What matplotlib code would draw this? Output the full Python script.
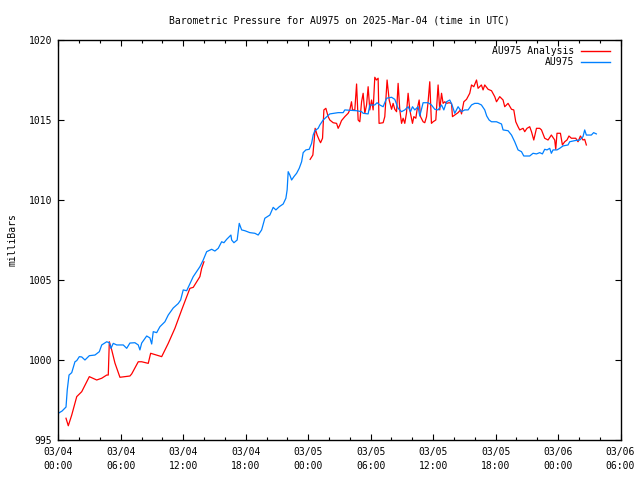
import numpy as np
import matplotlib
matplotlib.use("Agg")
import matplotlib.pyplot as plt

# hours since 2025-03-04 00:00 UTC, pressure in milliBars
au975_hours = [0.0, 0.36, 0.74, 0.86, 1.03, 1.29, 1.60, 1.77, 2.02, 2.25, 2.56, 2.98, 3.52, 3.94,
               4.17, 4.65, 4.90, 5.06, 5.28, 5.61, 6.24, 6.57, 6.88, 7.36, 7.68, 7.84, 8.01, 8.49,
               8.80, 8.97, 9.12, 9.45, 9.76, 10.24, 10.56, 11.04, 11.52, 11.75, 12.0, 12.33, 12.96,
               13.60, 13.92, 14.25, 14.73, 15.04, 15.36, 15.69, 15.91, 16.17, 16.58, 16.65, 16.87,
               17.18, 17.38, 17.61, 17.92, 18.40, 18.88, 19.20, 19.53, 19.84, 20.32, 20.64, 20.90,
               21.22, 21.60, 21.86, 21.98, 22.08, 22.24, 22.41, 22.63, 22.89, 23.14, 23.37, 23.52,
               23.78, 24.10, 24.33, 24.48, 24.64, 24.96, 25.12, 25.44, 26.08, 26.88, 27.36, 27.52,
               28.65, 29.13, 29.28, 29.76, 29.92, 30.40, 30.62, 30.88, 31.20, 31.53, 32.01, 32.32,
               32.64, 32.97, 33.28, 33.60, 33.83, 34.02, 34.24, 34.56, 34.72, 35.04, 35.52, 35.84,
               36.16, 36.48, 36.81, 37.03, 37.29, 37.60, 37.82, 38.08, 38.40, 38.73, 39.04, 39.36,
               39.69, 40.0, 40.32, 40.64, 40.96, 41.15, 41.38, 41.61, 42.09, 42.57, 42.72, 43.20,
               43.53, 43.84, 44.16, 44.49, 44.71, 45.28, 45.60, 45.93, 46.24, 46.50, 46.72, 46.94,
               47.20, 47.36, 47.52, 47.90, 48.16, 48.48, 48.96, 49.12, 49.60, 50.08, 50.40, 50.56,
               50.72, 51.20, 51.42, 51.68]
au975_mbar = [996.67, 996.81, 997.06, 998.13, 999.06, 999.21, 999.89, 999.96, 1000.21, 1000.19,
              1000.0, 1000.27, 1000.31, 1000.52, 1000.94, 1001.14, 1001.08, 1000.73, 1001.04,
              1000.94, 1000.94, 1000.73, 1001.06, 1001.08, 1000.94, 1000.63, 1001.06, 1001.5,
              1001.38, 1001.0, 1001.77, 1001.71, 1002.08, 1002.39, 1002.81, 1003.25, 1003.53,
              1003.75, 1004.38, 1004.33, 1005.21, 1005.83, 1006.25, 1006.77, 1006.92, 1006.81,
              1006.98, 1007.39, 1007.33, 1007.54, 1007.81, 1007.5, 1007.33, 1007.5, 1008.54,
              1008.13, 1008.08, 1007.96, 1007.92, 1007.81, 1008.13, 1008.86, 1009.06, 1009.54,
              1009.38, 1009.58, 1009.75, 1010.11, 1010.63, 1011.77, 1011.56, 1011.25, 1011.46,
              1011.67, 1011.98, 1012.39, 1012.96, 1013.13, 1013.17, 1013.54, 1014.06, 1014.33,
              1014.48, 1014.69, 1015.0, 1015.38, 1015.46, 1015.46, 1015.63, 1015.58, 1015.52,
              1015.42, 1015.38, 1015.94, 1015.94, 1016.08, 1015.94, 1015.83, 1016.36, 1016.42,
              1016.29, 1015.73, 1015.52, 1015.63, 1015.83, 1015.52, 1015.83, 1015.63, 1015.83,
              1015.25, 1016.08, 1016.08, 1015.94, 1015.67, 1015.63, 1015.94, 1015.63, 1016.14,
              1016.25, 1015.94, 1015.42, 1015.83, 1015.52, 1015.63, 1015.63, 1015.94, 1016.04,
              1016.04, 1015.94, 1015.63, 1015.25, 1015.0, 1014.89, 1014.89, 1014.75, 1014.38,
              1014.33, 1014.06, 1013.64, 1013.13, 1013.02, 1012.75, 1012.75, 1012.92, 1012.88,
              1012.96, 1012.88, 1013.17, 1013.13, 1013.23, 1012.92, 1013.13, 1013.13, 1013.23,
              1013.38, 1013.44, 1013.64, 1013.71, 1013.75, 1013.96, 1014.38, 1014.06, 1014.06,
              1014.21, 1014.13]

# analysis series, nan marks the gap in the data
nan = float("nan")
analysis_hours = [0.74, 0.96, 1.29, 1.77, 2.25, 2.98, 3.69, 4.17, 4.65, 4.80, 4.90, 5.13, 5.44,
                  5.92, 6.88, 7.05, 7.68, 8.01, 8.64, 8.87, 9.93, 10.56, 11.20, 11.85, 12.64,
                  12.96, 13.60, 13.77, 13.99, nan,
                  24.19, 24.45, 24.58, 24.67, 24.77, 24.86, 25.06, 25.19, 25.38, 25.51, 25.70,
                  25.92, 26.08, 26.40, 26.73, 26.88, 27.04, 27.20, 27.52, 27.84, 28.0, 28.16,
                  28.26, 28.48, 28.65, 28.80, 28.96, 29.13, 29.28, 29.44, 29.61, 29.76, 29.92,
                  30.09, 30.24, 30.40, 30.56, 30.72, 30.81, 31.20, 31.36, 31.58, 31.78, 32.01,
                  32.16, 32.32, 32.49, 32.64, 32.80, 32.97, 33.12, 33.28, 33.44, 33.60, 33.76,
                  34.02, 34.15, 34.34, 34.46, 34.66, 34.79, 35.04, 35.20, 35.37, 35.52, 35.68,
                  35.84, 36.0, 36.26, 36.48, 36.64, 36.81, 36.96, 37.12, 37.29, 37.54, 37.77,
                  37.86, 38.08, 38.40, 38.63, 38.73, 38.95, 39.21, 39.52, 39.69, 39.91, 40.17,
                  40.32, 40.64, 40.80, 40.96, 41.28, 41.61, 41.92, 42.09, 42.40, 42.72, 42.88,
                  43.20, 43.53, 43.75, 43.94, 44.16, 44.32, 44.64, 44.80, 45.02, 45.28, 45.45,
                  45.67, 45.93, 46.24, 46.41, 46.72, 47.04, 47.36, 47.68, 47.78, 47.90, 48.23,
                  48.42, 48.64, 48.86, 49.05, 49.28, 49.70, 49.92, 50.15, 50.40, 50.56, 50.72]
analysis_mbar = [996.36, 995.89, 996.56, 997.71, 998.02, 998.96, 998.75, 998.86, 999.06, 999.06,
                 1001.14, 1000.63, 999.81, 998.92, 999.0, 999.13, 999.89, 999.89, 999.79,
                 1000.42, 1000.21, 1001.04, 1001.98, 1003.13, 1004.48, 1004.54, 1005.21,
                 1005.73, 1006.14, nan,
                 1012.54, 1012.81, 1013.75, 1014.48, 1014.27, 1014.06, 1013.75, 1013.58,
                 1013.86, 1015.63, 1015.73, 1015.21, 1015.0, 1014.83, 1014.79, 1014.48,
                 1014.69, 1014.96, 1015.21, 1015.42, 1015.63, 1016.14, 1015.63, 1015.63,
                 1017.25, 1015.0, 1014.89, 1016.14, 1016.67, 1015.42, 1015.94, 1017.08,
                 1015.63, 1016.25, 1015.63, 1017.67, 1017.5, 1017.61, 1014.79, 1014.83,
                 1015.21, 1017.5, 1016.25, 1015.67, 1016.04, 1015.67, 1015.52, 1017.29,
                 1015.63, 1014.79, 1015.11, 1014.79, 1015.42, 1016.67, 1015.63, 1014.79,
                 1015.21, 1015.11, 1015.63, 1016.25, 1015.21, 1014.89, 1014.83, 1015.21,
                 1016.14, 1017.39, 1014.79, 1014.89, 1015.0, 1017.19, 1015.63, 1016.67,
                 1016.04, 1016.14, 1016.04, 1016.08, 1016.04, 1015.21, 1015.31, 1015.46,
                 1015.63, 1015.38, 1016.14, 1016.29, 1016.67, 1017.19, 1017.08, 1017.5,
                 1016.98, 1017.19, 1016.88, 1017.19, 1016.92, 1016.83, 1016.46, 1016.14,
                 1016.46, 1016.25, 1015.83, 1016.04, 1015.67, 1015.63, 1014.89, 1014.58,
                 1014.38, 1014.48, 1014.27, 1014.48, 1014.58, 1014.27, 1013.75, 1014.48,
                 1014.48, 1014.38, 1013.86, 1013.75, 1014.06, 1013.75, 1013.17, 1014.17,
                 1014.17, 1013.44, 1013.64, 1013.75, 1014.0, 1013.86, 1013.86, 1013.64,
                 1014.0, 1013.75, 1013.79, 1013.44]

x_ticks = [0, 6, 12, 18, 24, 30, 36, 42, 48, 54]
x_labels = ["03/04\n00:00", "03/04\n06:00", "03/04\n12:00", "03/04\n18:00", "03/05\n00:00",
            "03/05\n06:00", "03/05\n12:00", "03/05\n18:00", "03/06\n00:00", "03/06\n06:00"]
y_ticks = [995, 1000, 1005, 1010, 1015, 1020]

plt.rcParams['font.family'] = ['DejaVu Sans Mono']
plt.rcParams['font.size'] = 7

fig = plt.figure(figsize=(6.4, 4.8), dpi=100)
ax = fig.add_axes([58.3 / 640, 40 / 480, (620.5 - 58.3) / 640, 400 / 480])

red = '#ff0000'
blue = '#0080ff'
ax.plot(analysis_hours, analysis_mbar, color=red, lw=0.9)
ax.plot(au975_hours, au975_mbar, color=blue, lw=0.9)

ax.set_xlim(0, 54)
ax.set_ylim(995, 1020)
ax.set_xticks(x_ticks)
ax.set_xticklabels(x_labels, linespacing=1.45)
ax.set_xticks(np.arange(0, 55, 2), minor=True)
ax.set_yticks(y_ticks)
ax.tick_params(which='both', direction='in', top=True, right=True, width=0.8, color='black')
ax.tick_params(which='major', length=4.5)
ax.tick_params(which='minor', length=2.2)
ax.tick_params(axis='y', pad=4.5)
ax.tick_params(axis='x', pad=5)
for s in ax.spines.values():
    s.set_linewidth(1.0)

ax.set_title("Barometric Pressure for AU975 on 2025-Mar-04 (time in UTC)", fontsize=7, pad=12)
fig.text(12.7 / 640, 0.5, "milliBars", rotation=90, ha='center', va='center')

# gnuplot style key: right aligned text, sample line to the right
for label, col, ypos in [("AU975 Analysis", red, 0.973), ("AU975", blue, 0.945)]:
    ax.text(0.918, ypos, label, transform=ax.transAxes, ha='right', va='center')
    ax.plot([0.9306, 0.981], [ypos, ypos], transform=ax.transAxes, color=col, lw=1.0)

fig.savefig("out.png", dpi=100)
